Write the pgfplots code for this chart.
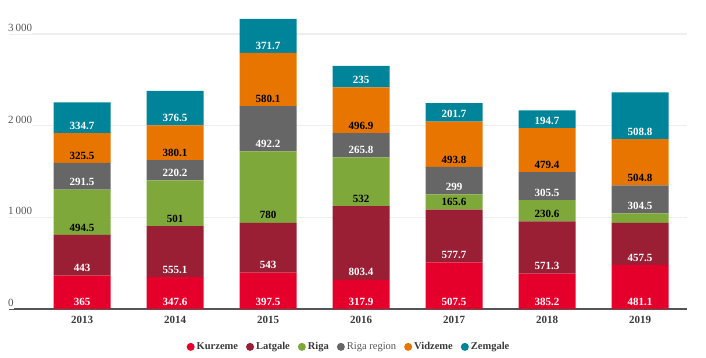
\documentclass[border=0pt]{standalone}
\usepackage{pgfplots}
\usepackage{pgfplotstable}
\pgfplotsset{compat=1.18}
\usepackage{fontspec}
\setmainfont{Liberation Serif}
\definecolor{kurz}{HTML}{E4002B}
\definecolor{latg}{HTML}{9A1F35}
\definecolor{riga}{HTML}{7FA83A}
\definecolor{rreg}{HTML}{666666}
\definecolor{vidz}{HTML}{E87500}
\definecolor{zemg}{HTML}{00849A}
\definecolor{gridgray}{HTML}{EEEEEE}
\definecolor{axisgray}{HTML}{555555}
\definecolor{txtgray}{HTML}{3A3A3A}
\pgfplotstableread{
x kurz latg riga rreg vidz zemg
0 365 443 494.5 291.5 325.5 334.7
1 347.6 555.1 501 220.2 380.1 376.5
2 397.5 543 780 492.2 580.1 371.7
3 317.9 803.4 532 265.8 496.9 235
4 507.5 577.7 165.6 299 493.8 201.7
5 385.2 571.3 230.6 305.5 479.4 194.7
6 481.1 457.5 105 304.5 504.8 508.8
}\datatable
\pgfplotsset{
  common/.style={
    at={(9pt,49pt)}, anchor=south west,
    scale only axis, width=678pt, height=303pt,
    xmin=-0.785, xmax=6.505, ymin=0, ymax=3305,
  },
  lbl/.style={draw=none, mark=none, forget plot,
    point meta=explicit symbolic,
    nodes near coords={\ifdim\pgfplotspointmeta pt<120pt\else\pgfmathprintnumber{\pgfplotspointmeta}\fi},
    every node near coord/.append style={font=\bfseries\fontsize{11}{12}\selectfont, anchor=south, inner sep=1pt, yshift=2.5pt, text=#1}},
}
\begin{document}
\begin{tikzpicture}[x=1pt,y=1pt]
\useasboundingbox (0,0) rectangle (706,358);
\begin{axis}[
  common,
  ybar stacked, bar width=0.613,
  axis x line*=bottom, axis y line*=left,
  y axis line style={draw=none},
  x axis line style={-, draw=axisgray, line width=1.6pt},
  major tick length=0pt, tick style={draw=none},
  ymajorgrids, grid style={draw=gridgray, line width=1.6pt},
  ytick={0,1000,2000,3000}, yticklabels={0,1\,000,2\,000,3\,000},
  yticklabel style={anchor=base west, fill=white, inner xsep=0pt, inner ysep=2.5pt, xshift=-1pt, yshift=2.5pt, font=\fontsize{11}{12}\selectfont, text=axisgray},
  xtick={0,...,6}, xticklabels={2013,2014,2015,2016,2017,2018,2019},
  xticklabel style={font=\bfseries\fontsize{11}{12}\selectfont, text=txtgray, yshift=-4pt},
  legend style={at={(0.5015,-0.125)}, anchor=center, draw=none, fill=none, legend columns=-1, font=\bfseries\fontsize{10.5}{12}\selectfont, text=txtgray, /tikz/every even column/.append style={column sep=6pt}},
  legend image code/.code={\fill[#1] (0pt,0pt) circle (4pt);},
]
\addplot[fill=kurz, draw=none] table[x=x,y=kurz]{\datatable};
\addlegendentry{Kurzeme}
\addplot[fill=latg, draw=none] table[x=x,y=latg]{\datatable};
\addlegendentry{Latgale}
\addplot[fill=riga, draw=none] table[x=x,y=riga]{\datatable};
\addlegendentry{Riga}
\addplot[fill=rreg, draw=none] table[x=x,y=rreg]{\datatable};
\addlegendentry{\mdseries\color{axisgray}Riga region}
\addplot[fill=vidz, draw=none] table[x=x,y=vidz]{\datatable};
\addlegendentry{Vidzeme}
\addplot[fill=zemg, draw=none] table[x=x,y=zemg]{\datatable};
\addlegendentry{Zemgale}
\end{axis}
\begin{axis}[common, hide axis, /pgf/number format/assume math mode=true, clip=false]
\addplot[lbl=white] table[x=x, y expr=0, meta=kurz]{\datatable};
\addplot[lbl=white] table[x=x, y expr=\thisrow{kurz}, meta=latg]{\datatable};
\addplot[lbl=black] table[x=x, y expr=\thisrow{kurz}+\thisrow{latg}, meta=riga]{\datatable};
\addplot[lbl=white] table[x=x, y expr=\thisrow{kurz}+\thisrow{latg}+\thisrow{riga}, meta=rreg]{\datatable};
\addplot[lbl=black] table[x=x, y expr=\thisrow{kurz}+\thisrow{latg}+\thisrow{riga}+\thisrow{rreg}, meta=vidz]{\datatable};
\addplot[lbl=white] table[x=x, y expr=\thisrow{kurz}+\thisrow{latg}+\thisrow{riga}+\thisrow{rreg}+\thisrow{vidz}, meta=zemg]{\datatable};
\end{axis}
\end{tikzpicture}
\end{document}
